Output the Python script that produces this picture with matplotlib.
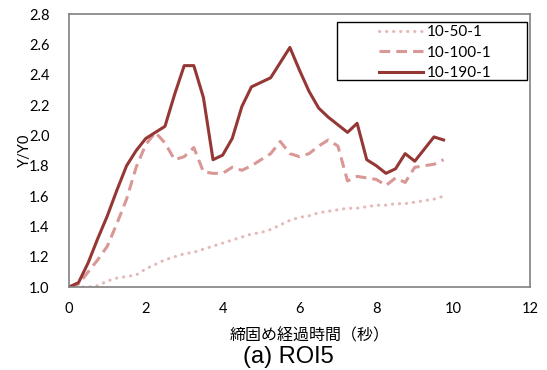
import matplotlib.pyplot as plt
from matplotlib.patches import Rectangle
import numpy as np

# 経過時間 (s), 0.25 s step
time_s = np.arange(40) * 0.25

ratio_50 = [1.00, 1.00, 1.00, 1.01, 1.04, 1.06, 1.07, 1.08, 1.12, 1.15,
            1.18, 1.20, 1.22, 1.23, 1.25, 1.27, 1.29, 1.31, 1.33, 1.35,
            1.36, 1.38, 1.41, 1.44, 1.46, 1.47, 1.49, 1.50, 1.51, 1.52,
            1.52, 1.53, 1.54, 1.54, 1.55, 1.55, 1.56, 1.57, 1.58, 1.60]
ratio_100 = [1.00, 1.02, 1.10, 1.18, 1.27, 1.42, 1.58, 1.79, 1.94, 2.02,
             1.95, 1.84, 1.86, 1.92, 1.76, 1.75, 1.75, 1.79, 1.77, 1.80,
             1.84, 1.88, 1.96, 1.88, 1.86, 1.88, 1.93, 1.97, 1.93, 1.70,
             1.73, 1.72, 1.71, 1.67, 1.72, 1.69, 1.79, 1.80, 1.81, 1.84]
ratio_190 = [1.00, 1.03, 1.16, 1.32, 1.47, 1.64, 1.80, 1.90, 1.98, 2.02,
             2.06, 2.27, 2.46, 2.46, 2.25, 1.84, 1.87, 1.98, 2.19, 2.32,
             2.35, 2.38, 2.48, 2.58, 2.43, 2.29, 2.18, 2.12, 2.07, 2.02,
             2.08, 1.84, 1.80, 1.75, 1.78, 1.88, 1.83, 1.91, 1.99, 1.97]

labels = ["10-50-1", "10-100-1", "10-190-1"]

fig = plt.figure(figsize=(5.47, 3.70), dpi=100)
ax = fig.add_axes([0.126, 0.224, 0.843, 0.738])

ax.plot(time_s, ratio_50, color="#E6B9B8", lw=2.2, linestyle=(0, (0.1, 2.2)),
        dash_capstyle="round", label=labels[0])
ax.plot(time_s, ratio_100, color="#D99795", lw=2.2, linestyle=(0, (3.5, 2)),
        label=labels[1])
ax.plot(time_s, ratio_190, color="#953735", lw=2.2, label=labels[2])

ax.set_xlim(0, 12)
ax.set_ylim(1.0, 2.8)
ax.set_xticks(np.arange(0, 13, 2))
ax.set_yticks(np.arange(1.0, 2.81, 0.2))
ax.set_yticklabels([f"{v:.1f}" for v in np.arange(1.0, 2.81, 0.2)])

for s in ax.spines.values():
    s.set_color("#808080")
    s.set_linewidth(1.2)
ax.tick_params(length=0, labelsize=10.5)
ax.tick_params(axis="y", pad=14)
ax.tick_params(axis="x", pad=11)
for t in ax.get_xticklabels() + ax.get_yticklabels():
    t.set_family("Lato")

ax.set_ylabel("Y/Y0", family="Lato", fontsize=10.5, labelpad=-2)
ax.set_xlabel("締固め経過時間（秒）", family=["Noto Sans CJK JP", "DejaVu Sans"],
              fontsize=11.5)
ax.xaxis.set_label_coords(0.523, -0.148)
fig.text(0.527, 0.034, "(a) ROI5", family="Liberation Sans", fontsize=17,
         ha="center", va="center")

# Excel-style legend: wide frame, entries centred inside
box = Rectangle((0.616, 0.784), 0.347, 0.157, transform=fig.transFigure,
                facecolor="white", edgecolor="black", lw=1.0, clip_on=False)
box.set_zorder(4)
ax.add_patch(box)
leg = ax.legend(loc="upper left", bbox_to_anchor=(0.693, 0.932),
                bbox_transform=fig.transFigure, frameon=False,
                prop={"family": "Lato", "size": 11},
                handlelength=2.9, borderpad=0, labelspacing=0.42, handletextpad=0.25,
                borderaxespad=0)
leg.set_zorder(5)

fig.savefig("out.png", dpi=100)
